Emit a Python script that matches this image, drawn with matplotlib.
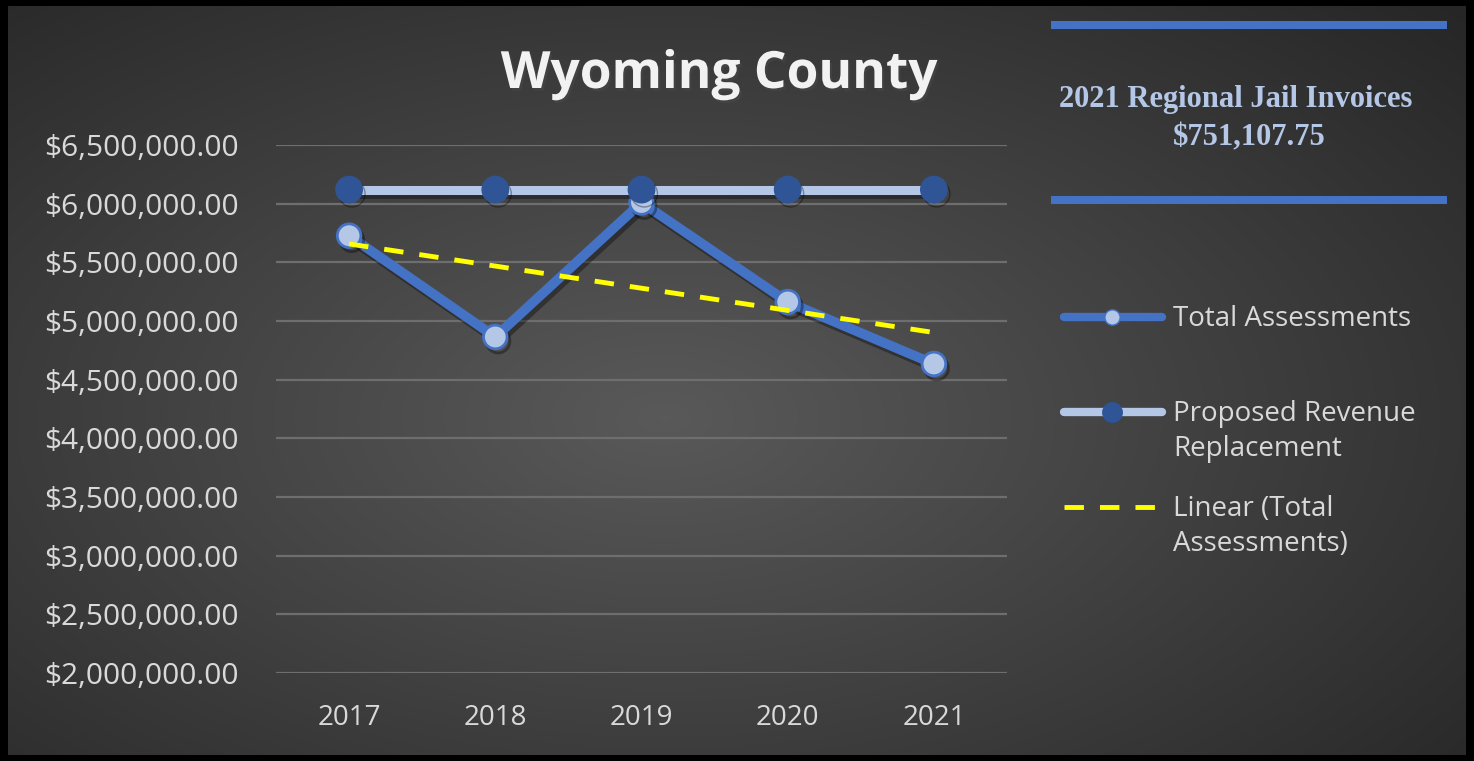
import numpy as np
import matplotlib.pyplot as plt
import matplotlib.patheffects as pe
from matplotlib.lines import Line2D
from matplotlib.ticker import FuncFormatter

years = ["2017", "2018", "2019", "2020", "2021"]
total_assessments = [5727000, 4864000, 6010000, 5162000, 4634000]
proposed_replacement = [6120000, 6120000, 6120000, 6120000, 6120000]

title = "Wyoming County"
invoice_label = "2021 Regional Jail Invoices"
invoice_amount = "$751,107.75"
legend_labels = ["Total Assessments", "Proposed Revenue\nReplacement", "Linear (Total\nAssessments)"]

BLUE = "#4472c4"
LIGHT_BLUE = "#b4c7e7"
DARK_BLUE = "#2f5597"
TEXT = "#d9d9d9"
SANS = "Open Sans"
TREND_DASH = (0, (4, 3.3))

W, H = 1474, 761
fig = plt.figure(figsize=(W / 100, H / 100), dpi=100)
fig.patch.set_facecolor("black")

# dark radial gradient panel inside the black frame
bg = fig.add_axes([8 / W, 6 / H, (W - 16) / W, (H - 12) / H])
yy, xx = np.mgrid[0:1:300j, 0:1:600j]
r = np.sqrt(((xx - 0.45) / 0.75) ** 2 + ((yy - 0.55) / 0.8) ** 2)
shade = np.clip(0.35 - 0.2 * r, 0.15, 0.35)
bg.imshow(np.dstack([shade] * 3), aspect="auto", extent=[0, 1, 0, 1], interpolation="bilinear")
bg.axis("off")

ax = fig.add_axes([276 / W, (H - 673) / H, (1007 - 276) / W, (673 - 145) / H])
ax.set_facecolor("none")
x = np.arange(len(years))

shadow = [pe.SimpleLineShadow(offset=(2, -3), alpha=0.35, shadow_color="black"), pe.Normal()]

ax.plot(x, total_assessments, color=BLUE, lw=7, marker="o", ms=17,
        mfc=LIGHT_BLUE, mec=BLUE, mew=2, zorder=3, path_effects=shadow)
ax.plot(x, proposed_replacement, color=LIGHT_BLUE, lw=6.5, marker="o", ms=19,
        mfc=DARK_BLUE, mec=DARK_BLUE, zorder=4, path_effects=shadow)

# linear trend of the assessments
slope, intercept = np.polyfit(x, total_assessments, 1)
ax.plot(x, slope * x + intercept, color="#ffff00", lw=3.5, ls=TREND_DASH, zorder=5)

ax.set_xlim(-0.5, len(years) - 0.5)
ax.set_ylim(2000000, 6500000)
ax.set_yticks(np.arange(2000000, 6500001, 500000))
ax.yaxis.set_major_formatter(FuncFormatter(lambda v, _: f"${v:,.2f}"))
ax.set_xticks(x)
ax.set_xticklabels(years)
ax.grid(axis="y", color="#6e6e6e", lw=1.6)
ax.set_axisbelow(True)
for s in ax.spines.values():
    s.set_visible(False)
ax.tick_params(length=0, colors=TEXT)
ax.tick_params(axis="x", pad=22, labelsize=20)
ax.tick_params(axis="y", pad=27, labelsize=21.5)
for lab in ax.get_xticklabels() + ax.get_yticklabels():
    lab.set_fontfamily(SANS)

fig.text(719 / W, 1 - 75 / H, title, ha="center", va="center", fontsize=37,
         fontweight="bold", color="#f2f2f2", family=SANS,
         path_effects=[pe.withSimplePatchShadow(offset=(1.5, -2), alpha=0.5)])

# invoice box with blue rules
for yp in (25, 200):
    fig.add_artist(Line2D([1051 / W, 1447 / W], [1 - yp / H] * 2, color=BLUE, lw=5.8,
                          solid_capstyle="butt"))
fig.text(1236 / W, 1 - 100 / H, invoice_label, ha="center", va="center", fontsize=22,
         fontweight="bold", color=LIGHT_BLUE, family="Liberation Serif")
fig.text(1249 / W, 1 - 138 / H, invoice_amount, ha="center", va="center", fontsize=22,
         fontweight="bold", color=LIGHT_BLUE, family="Liberation Serif")

# legend entries: handle line, centre marker, label
handles = [
    dict(line=dict(color=BLUE, lw=6), marker=dict(ms=11, mfc=LIGHT_BLUE, mec=BLUE)),
    dict(line=dict(color=LIGHT_BLUE, lw=6), marker=dict(ms=14, mfc=DARK_BLUE, mec=DARK_BLUE)),
    dict(line=dict(color="#ffff00", lw=3.5, ls=TREND_DASH), marker=None),
]
for i, (h, label) in enumerate(zip(handles, legend_labels)):
    yp = 1 - (317 + 95 * i) / H
    fig.add_artist(Line2D([1064 / W, 1162 / W], [yp, yp], solid_capstyle="round", **h["line"]))
    if h["marker"]:
        fig.add_artist(Line2D([1112 / W], [yp], marker="o", lw=0, **h["marker"]))
    fig.text(1173 / W, yp + 12 / H, label, ha="left", va="top", fontsize=20, color=TEXT,
             family=SANS, linespacing=1.35)

fig.savefig("out.png", dpi=100, facecolor=fig.get_facecolor())
